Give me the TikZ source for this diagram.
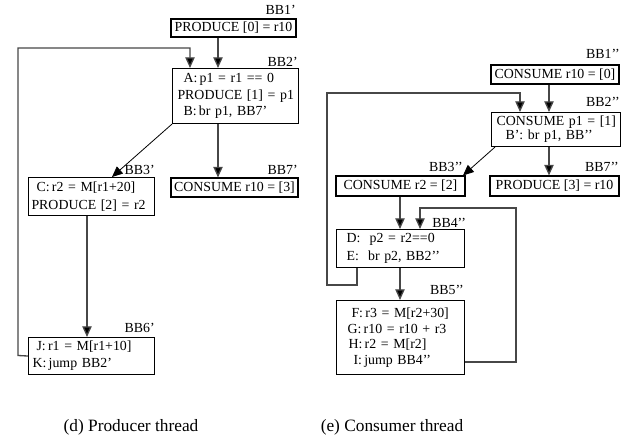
\documentclass[tikz,border=0pt]{standalone}
\usepackage{fontspec}
\setmainfont{Liberation Serif}
\usetikzlibrary{arrows.meta}
\newcommand{\bbline}[1]{\mbox{#1}}
\begin{document}
\begin{tikzpicture}[x=0.75pt,y=-0.75pt,
  txt/.style={font=\fontsize{10.4}{12.5}\selectfont},
  onebox/.style={draw, line width=0.8pt, inner sep=0pt, font=\fontsize{10.4}{12.5}\selectfont},
  multibox/.style={draw, line width=0.8pt, inner ysep=0pt, align=left, anchor=north west},
  bblabel/.style={txt, inner sep=0pt},
  conn/.style={draw=black!72, line width=1pt, -{Triangle[length=8pt,width=7pt,fill=black]}},
  diag/.style={draw=black, line width=0.6pt, -{Triangle[length=8pt,width=7pt,fill=black]}},
  caption/.style={font=\fontsize{13}{15}\selectfont, inner sep=0pt}
]
\useasboundingbox (0,0) rectangle (632,441);

% ---------------- Producer thread ----------------
\node[onebox, minimum width=93.75pt, minimum height=13.5pt] (bb1p) at (233.5,28) {PRODUCE [0] = r10};
\node[bblabel, anchor=east] (l1p) at (296,10) {BB1'};

\node[multibox, inner xsep=3.75pt, text width=87pt, minimum height=41.25pt,
      font=\fontsize{10.4}{12.4}\selectfont] (bb2p) at (172,68)
  {\bbline{\hspace*{4.5pt}A:\,p1 = r1 == 0}\\\bbline{PRODUCE [1] = p1}\\\bbline{\hspace*{4.5pt}B:\,br p1, BB7'}};
\node[bblabel, anchor=east] (l2p) at (298,62) {BB2'};

\node[multibox, inner xsep=2.25pt, text width=90pt, minimum height=28.5pt,
      font=\fontsize{10.4}{13.5}\selectfont] (bb3p) at (28,177)
  {\bbline{\hspace*{3.75pt}C:\,r2 = M[r1+20]}\\\bbline{PRODUCE [2] = r2}};
\node[bblabel, anchor=east] (l3p) at (155,170) {BB3'};

\node[onebox, minimum width=95.25pt, minimum height=14.25pt] (bb7p) at (234.5,187.5) {CONSUME r10 = [3]};
\node[bblabel, anchor=east] (l7p) at (298,170) {BB7'};

\node[multibox, inner xsep=3pt, text width=88.5pt, minimum height=27.75pt,
      font=\fontsize{10.4}{12.75}\selectfont] (bb6p) at (28,337)
  {\bbline{\hspace*{3pt}J:\,r1 = M[r1+10]}\\\bbline{K:\,jump BB2'}};
\node[bblabel, anchor=east] (l6p) at (155,328) {BB6'};

\draw[conn] (bb1p.south -| 218,0) -- (bb2p.north -| 218,0);
\draw[conn] (bb6p.west) -- (18,355.5) |- (190,48) -- (bb2p.north -| 190,0);
\draw[diag] (bb2p.south west) -- (bb3p.north -| 112,0);
\draw[conn] (bb2p.south -| 218,0) -- (bb7p.north -| 218,0);
\draw[conn] (bb3p.south -| 87,0) -- (bb6p.north -| 87,0);

% ---------------- Consumer thread ----------------
\node[onebox, minimum width=96pt, minimum height=14.25pt] (bb1pp) at (555,74.5) {CONSUME r10 = [0]};
\node[bblabel, anchor=east] (l1pp) at (620,54) {BB1'{}'};

\node[multibox, inner xsep=3.75pt, text width=89.25pt, minimum height=25.5pt,
      font=\fontsize{10.4}{10.5}\selectfont] (bb2pp) at (491,112)
  {\bbline{CONSUME p1 = [1]}\\\bbline{\hspace*{6.75pt}B'{}: br p1, BB'{}'}};
\node[bblabel, anchor=east] (l2pp) at (620,102) {BB2'{}'};

\node[onebox, minimum width=96.75pt, minimum height=15pt] (bb3pp) at (400.5,186) {CONSUME r2 = [2]};
\node[bblabel, anchor=east] (l3pp) at (463,167) {BB3'{}'};

\node[onebox, minimum width=96.75pt, minimum height=15pt] (bb7pp) at (554.5,186) {PRODUCE [3] = r10};
\node[bblabel, anchor=east] (l7pp) at (619,167) {BB7'{}'};

\node[multibox, inner xsep=7.5pt, text width=81pt, minimum height=28.5pt,
      font=\fontsize{10.4}{13.5}\selectfont] (bb4pp) at (336,229)
  {\bbline{D:~~p2 = r2==0}\\\bbline{E:~~br p2, BB2'{}'}};
\node[bblabel, anchor=west] (l4pp) at (432,223) {BB4'{}'};

\node[multibox, inner xsep=8.25pt, text width=79.5pt, minimum height=55.5pt,
      font=\fontsize{10.4}{11.75}\selectfont] (bb5pp) at (336,300)
  {\bbline{\hspace*{3pt}F:\,r3 = M[r2+30]}\\\bbline{G:\,r10 = r10 + r3}\\\bbline{\hspace*{0.75pt}H:\,r2 = M[r2]}\\\bbline{\hspace*{4.5pt}I:\,jump BB4'{}'}};
\node[bblabel, anchor=east] (l5pp) at (464,290) {BB5'{}'};

\draw[conn] (bb1pp.south -| 549,0) -- (bb2pp.north -| 549,0);
\draw[conn] (bb4pp.south -| 357,0) -- (357,285) -| (327,93) -| (bb2pp.north -| 520,0);
\draw[diag] (bb2pp.south -| 495,0) -- (bb3pp.north -| 463,0);
\draw[conn] (bb2pp.south -| 549,0) -- (bb7pp.north -| 549,0);
\draw[conn] (bb3pp.south -| 400,0) -- (bb4pp.north -| 400,0);
\draw[conn] (bb4pp.south -| 400,0) -- (bb5pp.north -| 400,0);
\draw[conn] (bb5pp.east |- 0,362) -- (516,362) |- (420,208) -- (bb4pp.north -| 420,0);

% ---------------- Captions ----------------
\node[caption] (capd) at (131,427) {(d) Producer thread};
\node[caption] (cape) at (392,427) {(e) Consumer thread};
\end{tikzpicture}
\end{document}
